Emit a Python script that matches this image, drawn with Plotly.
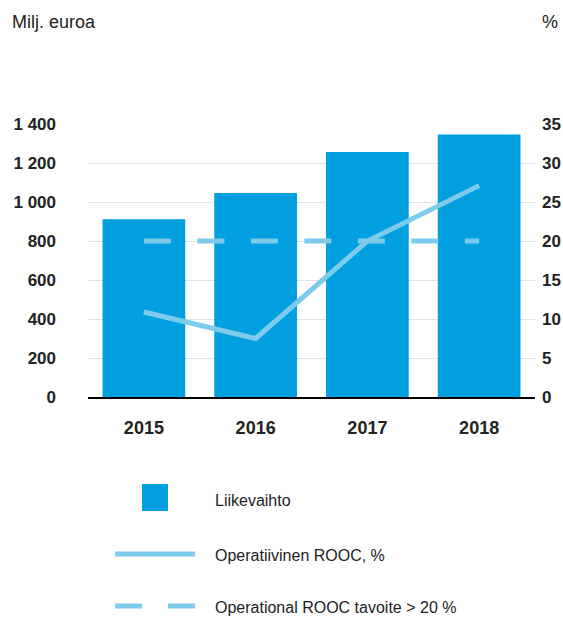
import plotly.graph_objects as go

years = ["2015", "2016", "2017", "2018"]
liikevaihto = [912, 1046, 1257, 1346]
rooc = [10.9, 7.5, 20.0, 27.1]
target = [20, 20, 20, 20]

left_ticks = [0, 200, 400, 600, 800, 1000, 1200, 1400]
left_ticktext = ["0", "200", "400", "600", "800", "1 000", "1 200", "1 400"]
right_ticks = [0, 5, 10, 15, 20, 25, 30, 35]

BAR = "#009fdf"
LINE = "#7ccbeb"
FONT = "Liberation Sans, Arial, sans-serif"

W, H = 563, 617
# plot area in window pixels
L, R, T, B = 88, 535, 124, 397


def px(x):
    return (x - L) / (R - L)


def py(y):
    return (B - y) / (B - T)


fig = go.Figure()
fig.add_trace(go.Bar(x=years, y=liikevaihto, marker=dict(color=BAR, line=dict(width=0)),
                     name="Liikevaihto", yaxis="y"))
fig.add_trace(go.Scatter(x=years, y=target, mode="lines", yaxis="y2",
                         line=dict(color=LINE, width=5, dash="27px,26.5px"),
                         name="Operational ROOC tavoite > 20 %"))
fig.add_trace(go.Scatter(x=years, y=rooc, mode="lines", yaxis="y2",
                         line=dict(color=LINE, width=5),
                         name="Operatiivinen ROOC, %"))

shapes = [
    dict(type="rect", xref="paper", yref="paper", x0=px(142), x1=px(168), y0=py(484), y1=py(511),
         fillcolor=BAR, line=dict(width=0)),
    dict(type="line", xref="paper", yref="paper", x0=px(115), x1=px(195), y0=py(554), y1=py(554),
         line=dict(color=LINE, width=5)),
    dict(type="line", xref="paper", yref="paper", x0=px(115), x1=px(195), y0=py(606), y1=py(606),
         line=dict(color=LINE, width=5, dash="27px,26px")),
]

ann_font = dict(family=FONT, size=16, color="#222222")
annotations = [
    dict(text="Milj. euroa", xref="paper", yref="paper", x=px(10), y=py(22), xanchor="left",
         yanchor="middle", showarrow=False, font=dict(family=FONT, size=18, color="#222222")),
    dict(text="%", xref="paper", yref="paper", x=px(560), y=py(22), xanchor="right",
         yanchor="middle", showarrow=False, font=dict(family=FONT, size=18, color="#222222")),
    dict(text="Liikevaihto", xref="paper", yref="paper", x=px(213), y=py(500), xanchor="left",
         yanchor="middle", showarrow=False, font=ann_font),
    dict(text="Operatiivinen ROOC, %", xref="paper", yref="paper", x=px(213), y=py(555), xanchor="left",
         yanchor="middle", showarrow=False, font=ann_font),
    dict(text="Operational ROOC tavoite > 20 %", xref="paper", yref="paper", x=px(213), y=py(607),
         xanchor="left", yanchor="middle", showarrow=False, font=ann_font),
]

fig.update_layout(
    width=W, height=H,
    margin=dict(l=L, r=W - R, t=T, b=H - B, pad=0, autoexpand=False),
    paper_bgcolor="white", plot_bgcolor="white",
    showlegend=False,
    hovermode=False,
    bargap=0.26,
    font=dict(family=FONT, size=16, color="#222222"),
    xaxis=dict(type="category", showgrid=False, showline=True, linecolor="black", linewidth=2,
               ticks="", ticklabelstandoff=13, automargin=False,
               tickfont=dict(family=FONT, size=18, color="#222222", weight="bold")),
    yaxis=dict(range=[0, 1400], tickvals=left_ticks, ticktext=left_ticktext, automargin=False,
               showgrid=True, gridcolor="#e3e3e3", gridwidth=1, zeroline=False,
               ticks="", ticklabelstandoff=31,
               tickfont=dict(family=FONT, size=17, color="#222222", weight="bold")),
    yaxis2=dict(range=[0, 35], tickvals=right_ticks, overlaying="y", side="right", automargin=False,
                showgrid=False, zeroline=False, ticks="", ticklabelstandoff=6,
                tickfont=dict(family=FONT, size=17, color="#222222", weight="bold")),
    shapes=shapes,
    annotations=annotations,
)

fig.write_html(
    "out.html",
    config={"displayModeBar": False, "staticPlot": True},
    post_script="document.body.style.margin='0';document.body.style.overflow='hidden';",
)
